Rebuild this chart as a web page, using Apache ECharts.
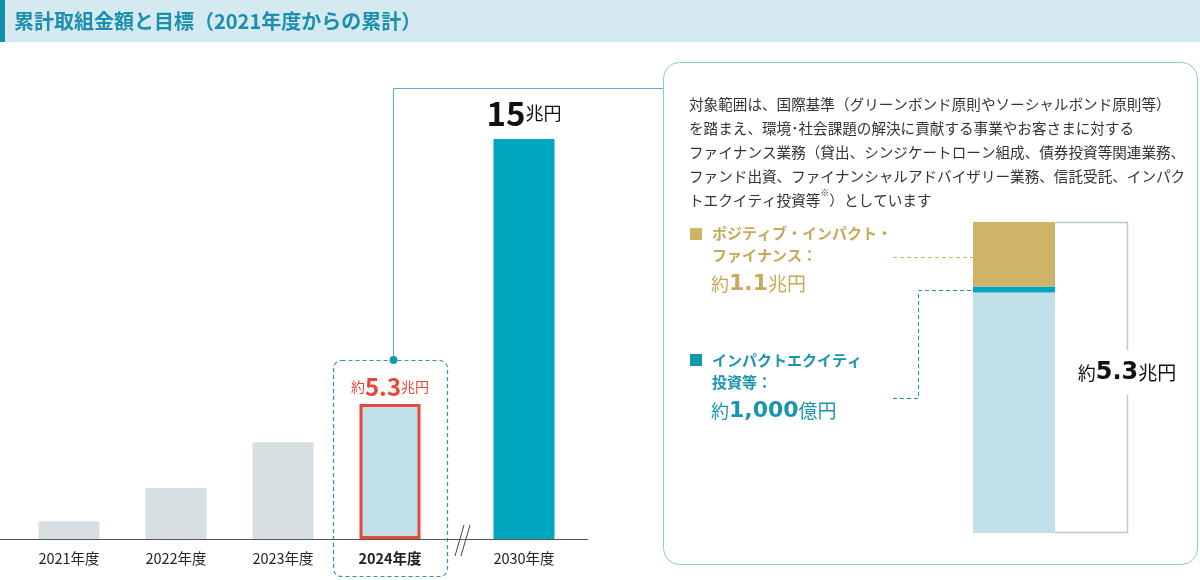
<!DOCTYPE html>
<html>
<head>
<meta charset="utf-8">
<script src="https://cdn.jsdelivr.net/npm/echarts@6/dist/echarts.min.js"></script>
<style>
  html, body { margin: 0; padding: 0; background: #fff; }
  #chart { width: 1200px; height: 580px; }
</style>
</head>
<body>
<div id="chart"></div>
<script>
// 実績（兆円）
const years = ['2021年度', '2022年度', '2023年度', '2024年度']
const actual = [0.7, 2.0, 3.8, 5.3]
// 目標
const targetYears = ['2030年度']
const target = [15]
// 2024年度の内訳（兆円）
const breakdownNames = ['その他', 'インパクトエクイティ投資等', 'ポジティブ・インパクト・ファイナンス']
const breakdown = [4.1, 0.1, 1.1]

const FONT = '"Noto Sans CJK JP", "Noto Sans", sans-serif'
const NUM = '"DejaVu Sans", sans-serif'
const TEAL = '#00a5c0'
const LIGHT = '#bfe0e8'
const GOLD = '#cfb467'
const RED = '#e8473c'

const total = breakdown.reduce((a, b) => a + b, 0).toFixed(1)

const noteLines = [
  '対象範囲は、国際基準（グリーンボンド原則やソーシャルボンド原則等）',
  'を踏まえ、環境･社会課題の解決に貢献する事業やお客さまに対する',
  'ファイナンス業務（貸出、シンジケートローン組成、債券投資等関連業務、',
  'ファンド出資、ファイナンシャルアドバイザリー業務、信託受託、インパク',
  'トエクイティ投資等{s|※}）としています'
]

let myChart = echarts.init(document.getElementById('chart'))

const hiddenY = (max) => ({
  type: 'value', min: 0, max: max,
  show: false, splitLine: { show: false }
})

// 約 + 数値 + 単位 のリッチテキスト
const amount = (num, unit, color, numSize, unitSize) => ({
  text: '{a|約}{b|' + num + '}{c|' + unit + '}',
  rich: {
    a: { fontSize: 18, fill: color, fontFamily: FONT },
    b: { fontSize: numSize, fontWeight: 'bold', fill: color, fontFamily: NUM },
    c: { fontSize: unitSize, fill: color, fontFamily: FONT }
  }
})

myChart.setOption({
  animation: false,
  textStyle: { fontFamily: FONT },
  grid: [
    { left: 15.5, width: 428, top: 139, height: 400 },
    { left: 470.5, width: 107, top: 139, height: 400 },
    { left: 973, width: 82, top: 222, height: 311 }
  ],
  xAxis: [
    {
      gridIndex: 0, type: 'category', data: years,
      axisLine: { show: false }, axisTick: { show: false },
      axisLabel: {
        interval: 0, margin: 12, fontSize: 14.5, color: '#222', fontFamily: FONT,
        formatter: (v) => v === '2024年度' ? '{b|' + v + '}' : v,
        rich: { b: { fontSize: 14.5, fontWeight: 'bold', color: '#222', fontFamily: FONT } }
      }
    },
    {
      gridIndex: 1, type: 'category', data: targetYears,
      axisLine: { show: false }, axisTick: { show: false },
      axisLabel: { interval: 0, margin: 12, fontSize: 14.5, color: '#222', fontFamily: FONT }
    },
    { gridIndex: 2, type: 'category', data: ['内訳'], show: false }
  ],
  yAxis: [
    Object.assign({ gridIndex: 0 }, hiddenY(15.7)),
    Object.assign({ gridIndex: 1 }, hiddenY(15)),
    Object.assign({ gridIndex: 2 }, hiddenY(5.3))
  ],
  series: [
    {
      name: '実績', type: 'bar', xAxisIndex: 0, yAxisIndex: 0, barWidth: 61,
      itemStyle: { color: '#d7dfe3' },
      data: actual.map((v, i) => i === actual.length - 1 ? {
        value: v,
        itemStyle: { color: LIGHT, borderColor: RED, borderWidth: 3 },
        label: {
          show: true, position: 'top', distance: 5,
          formatter: '{a|約}{b|' + v.toFixed(1) + '}{a|兆円}',
          rich: {
            a: { fontSize: 14, color: RED, fontFamily: FONT },
            b: { fontSize: 24, fontWeight: 'bold', color: RED, fontFamily: FONT }
          }
        }
      } : v)
    },
    {
      name: '目標', type: 'bar', xAxisIndex: 1, yAxisIndex: 1, barWidth: 61,
      itemStyle: { color: TEAL },
      label: {
        show: true, position: 'top', distance: 9,
        formatter: (p) => '{b|' + p.value + '}{a|兆円}',
        rich: {
          a: { fontSize: 18, color: '#111', fontFamily: FONT },
          b: { fontSize: 33, fontWeight: 'bold', color: '#111', fontFamily: FONT }
        }
      },
      data: target
    },
    ...breakdownNames.map((n, i) => ({
      name: n, type: 'bar', xAxisIndex: 2, yAxisIndex: 2, stack: 'total',
      barWidth: '100%',
      itemStyle: { color: [LIGHT, TEAL, GOLD][i] },
      data: [breakdown[i]]
    }))
  ],
  graphic: [
    // タイトルバー
    { type: 'rect', shape: { x: 0, y: 0, width: 1200, height: 42 }, style: { fill: '#d5e9f1' } },
    { type: 'rect', shape: { x: 0, y: 0, width: 5, height: 42 }, style: { fill: '#138fab' } },
    {
      type: 'text', x: 14, y: 21,
      style: {
        text: '累計取組金額と目標（2021年度からの累計）', fill: '#1a8fae',
        font: 'bold 20px ' + FONT, verticalAlign: 'middle'
      }
    },
    // 軸線と省略記号
    { type: 'line', shape: { x1: 0, y1: 539.5, x2: 588, y2: 539.5 }, style: { stroke: '#555', lineWidth: 1 } },
    { type: 'line', shape: { x1: 455, y1: 556, x2: 464, y2: 525 }, style: { stroke: '#444', lineWidth: 1 } },
    { type: 'line', shape: { x1: 461, y1: 556, x2: 470, y2: 525 }, style: { stroke: '#444', lineWidth: 1 } },
    // 2024年度の枠と引出線
    {
      type: 'rect', shape: { x: 333.5, y: 360.5, width: 114, height: 216, r: 8 },
      style: { fill: 'none', stroke: '#2b97b4', lineWidth: 1.2, lineDash: [4, 3] }
    },
    {
      type: 'polyline', shape: { points: [[393.5, 360], [393.5, 88.5], [663, 88.5]] },
      style: { stroke: '#5ab0c6', lineWidth: 1, fill: 'none' }
    },
    { type: 'circle', shape: { cx: 393.5, cy: 360, r: 4 }, style: { fill: '#1a96b3' } },
    // 説明ボックス
    {
      type: 'rect', shape: { x: 663.5, y: 62.5, width: 534, height: 502, r: 16 },
      style: { fill: 'none', stroke: '#8ccad8', lineWidth: 1 }
    },
    {
      type: 'text', x: 689, y: 92,
      style: {
        text: noteLines.join('\n'), font: '14.6px ' + FONT, fill: '#333', lineHeight: 24,
        rich: { s: { fontSize: 9, fill: '#333', fontFamily: FONT, verticalAlign: 'top', lineHeight: 18 } }
      }
    },
    // 凡例：ポジティブ・インパクト・ファイナンス
    { type: 'rect', shape: { x: 690, y: 228, width: 12, height: 12 }, style: { fill: GOLD } },
    {
      type: 'text', x: 712, y: 222,
      style: {
        text: 'ポジティブ・インパクト・\nファイナンス：', font: 'bold 15px ' + FONT,
        fill: '#c8a85a', lineHeight: 22
      }
    },
    {
      type: 'text', x: 711, y: 284,
      style: Object.assign({ verticalAlign: 'middle' },
        amount(breakdown[2].toFixed(1), '兆円', '#c8a85a', 22, 19))
    },
    {
      type: 'line', shape: { x1: 893, y1: 257.5, x2: 973, y2: 257.5 },
      style: { stroke: '#d2b870', lineWidth: 1, lineDash: [4, 3] }
    },
    // 凡例：インパクトエクイティ投資等
    { type: 'rect', shape: { x: 690, y: 354, width: 12, height: 12 }, style: { fill: '#1695b0' } },
    {
      type: 'text', x: 712, y: 349,
      style: {
        text: 'インパクトエクイティ\n投資等：', font: 'bold 15px ' + FONT,
        fill: '#1a95b0', lineHeight: 22
      }
    },
    {
      type: 'text', x: 711, y: 411,
      style: Object.assign({ verticalAlign: 'middle' },
        amount('1,000', '億円', '#1a95b0', 22, 19))
    },
    {
      type: 'polyline', shape: { points: [[893, 398.5], [918.5, 398.5], [918.5, 290.5], [973, 290.5]] },
      style: { stroke: '#1a96b3', lineWidth: 1, lineDash: [4, 3], fill: 'none' }
    },
    // 内訳の括弧
    {
      type: 'polyline', shape: { points: [[1055, 222.5], [1127.5, 222.5], [1127.5, 350]] },
      style: { stroke: '#b9c9d1', lineWidth: 1.5, fill: 'none' }
    },
    {
      type: 'polyline', shape: { points: [[1127.5, 395], [1127.5, 532.5], [1055, 532.5]] },
      style: { stroke: '#b9c9d1', lineWidth: 1.5, fill: 'none' }
    },
    {
      type: 'text', x: 1127, y: 373,
      style: Object.assign({ align: 'center', verticalAlign: 'middle' },
        amount(total, '兆円', '#111', 24, 19))
    }
  ]
})
</script>
</body>
</html>
